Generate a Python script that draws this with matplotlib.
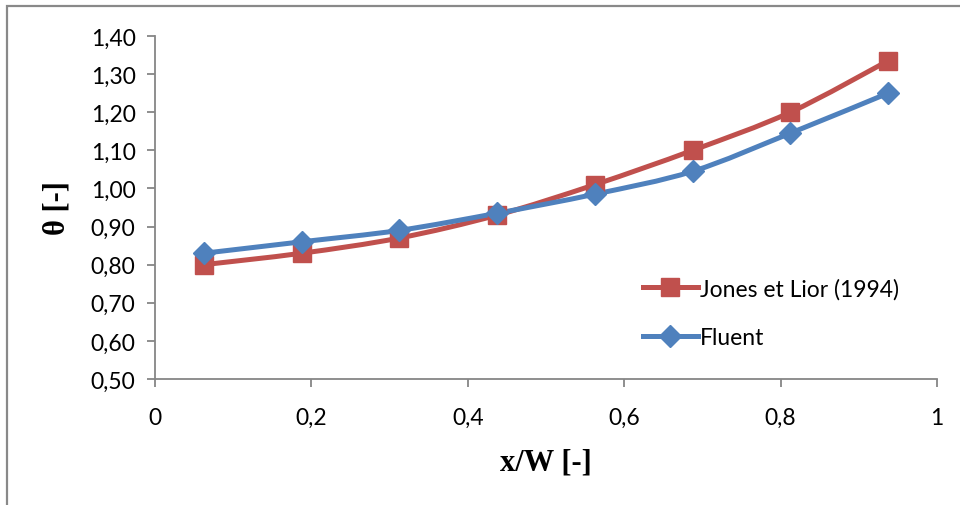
import numpy as np
import matplotlib.pyplot as plt
from matplotlib.path import Path
from matplotlib.patches import PathPatch, Rectangle
from matplotlib.lines import Line2D
from matplotlib.ticker import FuncFormatter

# data
x_w = [0.0625, 0.1875, 0.3125, 0.4375, 0.5625, 0.6875, 0.8125, 0.9375]
theta_jones = [0.80, 0.83, 0.87, 0.93, 1.01, 1.10, 1.20, 1.335]
theta_fluent = [0.83, 0.86, 0.89, 0.935, 0.985, 1.045, 1.145, 1.25]

red = '#C0504D'
blue = '#4F81BD'
gray = '#868686'


def smooth_path(xs, ys):
    # Excel-style smoothed line: Catmull-Rom segments as cubic Bezier curves
    pts = np.column_stack([xs, ys])
    verts = [pts[0]]
    codes = [Path.MOVETO]
    n = len(pts)
    for i in range(n - 1):
        p0 = pts[max(i - 1, 0)]
        p1 = pts[i]
        p2 = pts[i + 1]
        p3 = pts[min(i + 2, n - 1)]
        c1 = p1 + (p2 - p0) / 6.0
        c2 = p2 - (p3 - p1) / 6.0
        verts += [c1, c2, p2]
        codes += [Path.CURVE4] * 3
    return Path(verts, codes)


fig = plt.figure(figsize=(9.6, 5.06), dpi=100)
ax = fig.add_axes([155 / 960, 1 - 380 / 506, (937 - 155) / 960, (380 - 37) / 506])

# outer chart frame (only left/top visible in the crop)
fig.patches.append(Rectangle((7 / 960, -0.2), 1.2, 1 - 7 / 506 + 0.2,
                             transform=fig.transFigure, fill=False,
                             edgecolor='#898989', linewidth=1.6, zorder=0))

for xs, ys, c, mk, ms in [(x_w, theta_jones, red, 's', 13),
                          (x_w, theta_fluent, blue, 'D', 11)]:
    ax.add_patch(PathPatch(smooth_path(xs, ys), facecolor='none', edgecolor=c,
                           linewidth=3.6, capstyle='round', zorder=2))
    ax.plot(xs, ys, linestyle='none', marker=mk, markersize=ms, color=c,
            markeredgecolor=c, zorder=3)

ax.set_xlim(0, 1)
ax.set_ylim(0.5, 1.4)
ax.set_xticks(np.arange(0, 1.01, 0.2))
ax.set_yticks(np.arange(0.5, 1.401, 0.1))
ax.xaxis.set_major_formatter(FuncFormatter(lambda v, p: ('%g' % round(v, 2)).replace('.', ',')))
ax.yaxis.set_major_formatter(FuncFormatter(lambda v, p: ('%.2f' % v).replace('.', ',')))

for s in ['top', 'right']:
    ax.spines[s].set_visible(False)
for s in ['left', 'bottom']:
    ax.spines[s].set_color(gray)
    ax.spines[s].set_linewidth(1.3)
ax.tick_params(direction='out', length=6, width=1.3, color=gray,
               labelsize=16.5, pad=8)
ax.tick_params(axis='x', pad=14)
for lab in ax.get_xticklabels() + ax.get_yticklabels():
    lab.set_family('Lato')

ax.set_xlabel('x/W [-]', family='Liberation Serif', fontweight='bold',
              fontsize=22, labelpad=14)
ax.set_ylabel('θ [-]', family='Liberation Serif', fontweight='bold',
              fontsize=22, labelpad=14)

handles = [Line2D([], [], color=red, lw=3.6, marker='s', markersize=13),
           Line2D([], [], color=blue, lw=3.6, marker='D', markersize=11)]
ax.legend(handles, ['Jones et Lior (1994)', 'Fluent'], frameon=False,
          loc='upper left', bbox_to_anchor=(622 / 960, 1 - 258 / 506),
          bbox_transform=fig.transFigure, prop={'family': 'Lato', 'size': 16.5},
          handlelength=2.4, handletextpad=0.1, labelspacing=1.2)

fig.savefig('out.png', dpi=100)
